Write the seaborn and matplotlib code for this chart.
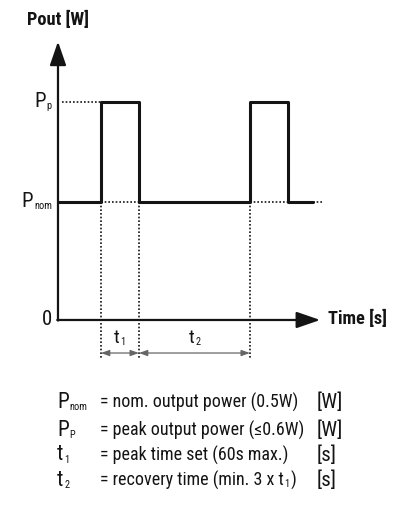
import numpy as np
import pandas as pd
import seaborn as sns
import matplotlib.pyplot as plt
from matplotlib import font_manager as fm

# ---- data (schematic units) ----
p_nom = 1.0
p_peak = 1.85
pulse_starts = [1.13, 5.05]
pulse_width = 1.0
t_end_solid = 6.71
t_end_dotted = 6.95
x_axis_end = 6.90
y_axis_end = 2.36
level_labels = [("0", ""), ("P", "nom"), ("P", "p")]
level_values = [0.0, p_nom, p_peak]
interval_labels = [("t", "1"), ("t", "2")]
legend_symbols = [("P", "nom"), ("P", "P"), ("t", "1"), ("t", "2")]
legend_texts = ["= nom. output power (0.5W)", "= peak output power (\u22640.6W)",
                "= peak time set (60s max.)", "= recovery time (min. 3 x t"]
legend_text_tail = ["", "", "", ("1", ")")]
legend_units = ["[W]", "[W]", "[s]", "[s]"]

# build the step waveform
t_pts, p_pts = [0.0], [p_nom]
for s in pulse_starts:
    t_pts += [s, s, s + pulse_width, s + pulse_width]
    p_pts += [p_nom, p_peak, p_peak, p_nom]
t_pts.append(t_end_solid)
p_pts.append(p_nom)
wave = pd.DataFrame({"t": t_pts, "p": p_pts})

# pick the narrowest installed family available
names = sorted({f.name for f in fm.fontManager.ttflist})
cands = [n for n in names if ("Narrow" in n or "Condensed" in n)]
pref = ["Liberation Sans Narrow", "Roboto Condensed", "Open Sans Condensed"]
chosen = None
for p in pref + cands + ["Roboto", "Liberation Sans"]:
    if p in names:
        chosen = p
        break
if chosen is None:
    chosen = "DejaVu Sans"

sns.set_theme(style="white")
plt.rcParams["font.family"] = [chosen, "DejaVu Sans"]

fig = plt.figure(figsize=(4, 5.09), dpi=100)
ax = fig.add_axes([0, 0, 1, 1])
ax.set_xlim(-1.526, 9.0)
ax.set_ylim(-1.602, 2.712)
ax.axis("off")
renderer = fig.canvas.get_renderer()
ink = "#141414"


def fit(t, target_w, max_size):
    w = t.get_window_extent(renderer).width
    t.set_fontsize(min(max_size, t.get_fontsize() * target_w / w))


def sub_label(x, y, main, sub, size, sub_size, transform, ha="left"):
    """Main glyph with a small subscript; returns right-most text artist."""
    m = ax.text(x, y, main, ha="left", va="center", fontsize=size, color=ink,
                transform=transform)
    if not sub:
        if ha == "right":
            m.set_ha("right")
        return m
    s = ax.annotate(sub, xy=(1.0, 0.12), xycoords=m, xytext=(0.6, 0),
                    textcoords="offset points", ha="left", va="baseline",
                    fontsize=sub_size, color=ink)
    if ha in ("right", "center"):
        fig.canvas.draw()
        wm = m.get_window_extent(renderer).width
        ws = s.get_window_extent(renderer).width
        tot = wm + ws + 0.6 * fig.dpi / 72
        shift = tot if ha == "right" else tot / 2
        px, py = transform.transform((x, y))
        nx, ny = transform.inverted().transform((px - shift, py))
        m.set_position((nx, ny))
    return s


# axes with arrows
arrow_kw = dict(arrowstyle="-|>,head_length=1.45,head_width=0.5", lw=1.6,
                color=ink, shrinkA=0, shrinkB=0, mutation_scale=10)
ax.annotate("", xy=(0, y_axis_end), xytext=(0, -0.005), arrowprops=arrow_kw)
ax.annotate("", xy=(x_axis_end, 0), xytext=(-0.02, 0), arrowprops=arrow_kw)

# dotted guides
dot = dict(color=ink, lw=1.2, ls=(0, (1, 1.2)))
ax.plot([0.1, pulse_starts[0]], [p_peak, p_peak], **dot)
for s in pulse_starts:
    ax.plot([s, s + pulse_width], [p_nom, p_nom], **dot)
ax.plot([t_end_solid, t_end_dotted], [p_nom, p_nom], **dot)
v_marks = [pulse_starts[0], pulse_starts[0] + pulse_width, pulse_starts[1]]
for v in v_marks:
    ax.plot([v, v], [p_nom, -0.33], **dot)

# waveform
sns.lineplot(data=wave, x="t", y="p", sort=False, estimator=None, ax=ax,
             color=ink, lw=2.2)

# dimension arrows
dim_y = -0.28
dim_kw = dict(arrowstyle="<|-|>,head_length=0.5,head_width=0.18", lw=0.9,
              color="#666666", shrinkA=0, shrinkB=0, mutation_scale=10)
for a, b, (mn, sb) in zip(v_marks[:-1], v_marks[1:], interval_labels):
    ax.annotate("", xy=(b, dim_y), xytext=(a, dim_y), arrowprops=dim_kw)
    sub_label((a + b) / 2, -0.15, mn, sb, 14, 7.5, ax.transData, ha="center")

# level labels
for (mn, sb), val in zip(level_labels, level_values):
    sub_label(-0.16, val, mn, sb, 15, 7.5, ax.transData, ha="right")

t_pout = ax.text(-0.82, 2.54, "Pout [W]", ha="left", va="center", fontsize=18,
                 fontweight="bold", color=ink)
fit(t_pout, 62, 18)
t_time = ax.text(7.1, 0.01, "Time [s]", ha="left", va="center", fontsize=18,
                 fontweight="bold", color=ink)
fit(t_time, 59, 18)

# legend lines
rows_y = [402, 430, 455, 480]
txt_objs = []
for yy, (mn, sb), txt, unit in zip(rows_y, legend_symbols, legend_texts, legend_units):
    fy = 1 - yy / 509
    sub_label(57 / 400, fy, mn, sb, 15.5, 7.5, fig.transFigure)
    txt_objs.append(ax.text(100 / 400, fy, txt, ha="left", va="center",
                            fontsize=15, color=ink, transform=fig.transFigure))
    ax.text(317 / 400, fy, unit, ha="left", va="center", fontsize=15, color=ink,
            transform=fig.transFigure)
w = txt_objs[1].get_window_extent(renderer).width
size = min(15, 15 * 205 / w)
for t in txt_objs:
    t.set_fontsize(size)
# subscript + closing parenthesis on the last row
last = txt_objs[3]
sub_t = ax.annotate(legend_text_tail[3][0], xy=(1.0, 0.12), xycoords=last,
                    xytext=(0.5, 0), textcoords="offset points", ha="left",
                    va="baseline", fontsize=7.5, color=ink)
ax.annotate(legend_text_tail[3][1], xy=(1.0, 0.5), xycoords=last,
            xytext=(4.6, 0), textcoords="offset points", ha="left",
            va="center", fontsize=size, color=ink)

fig.savefig("out.png", dpi=100, facecolor="white")
